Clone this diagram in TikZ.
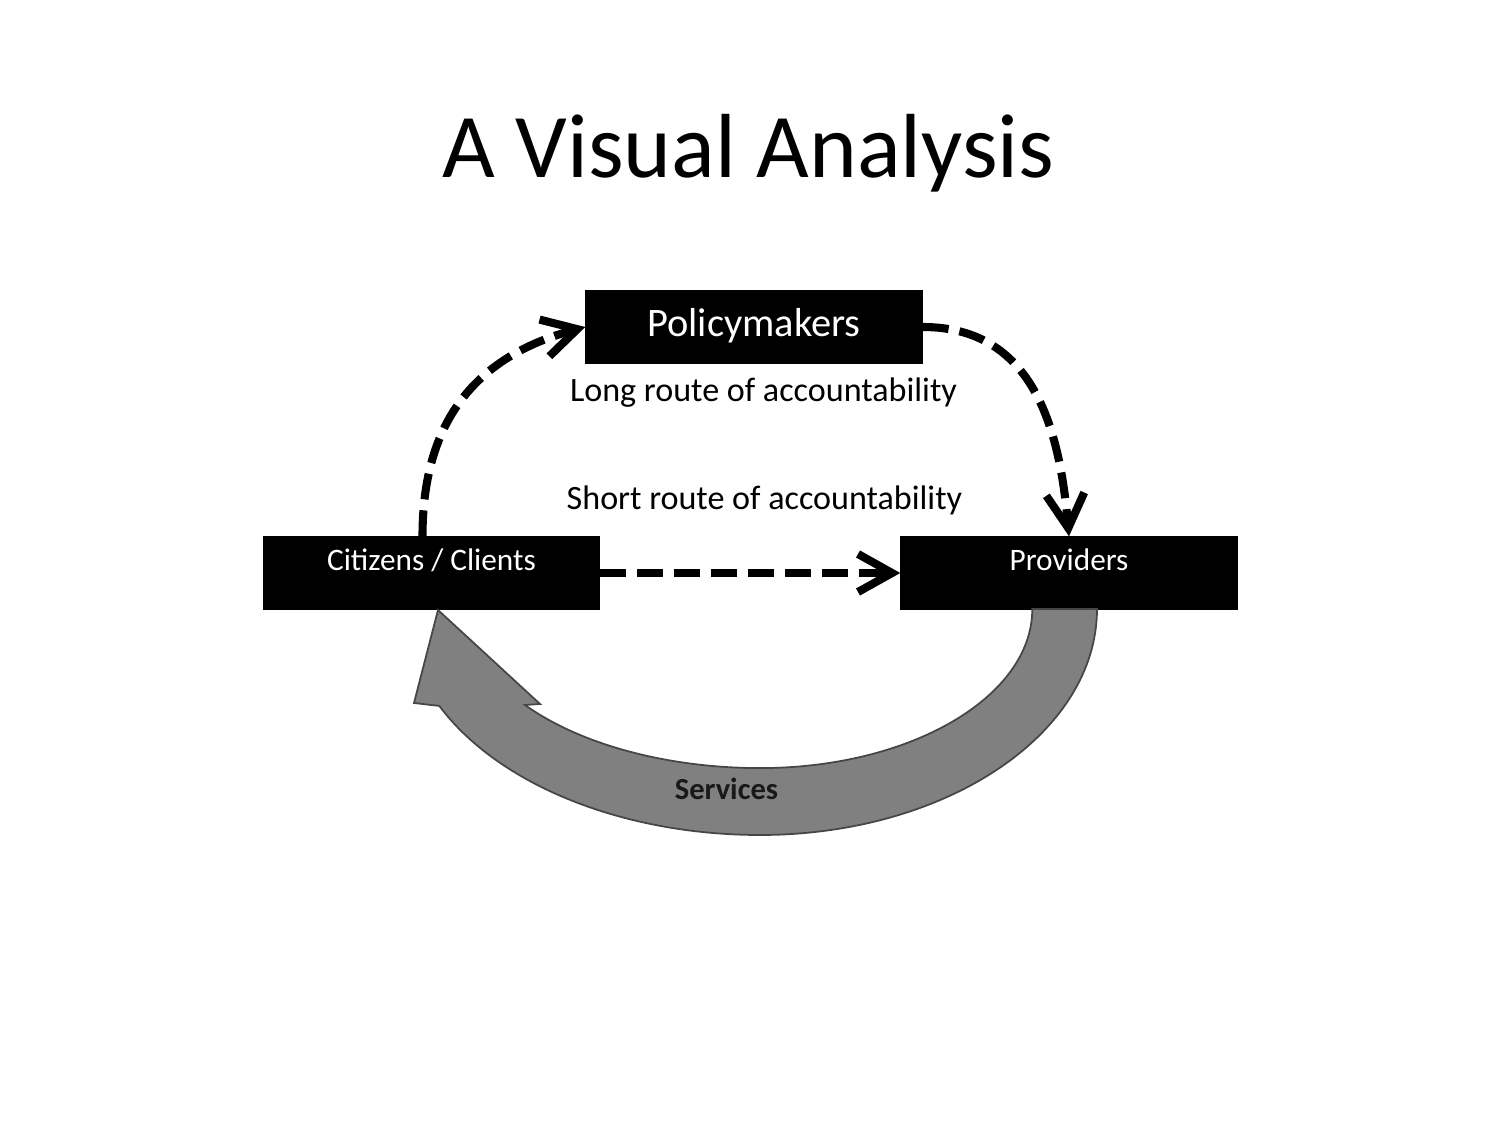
\documentclass[tikz,border=0pt]{standalone}
\usepackage{fontspec}
\setmainfont{Carlito}
\usepackage{xcolor}
\usetikzlibrary{arrows.meta,calc,positioning}
\definecolor{servgray}{RGB}{128,128,128}
\definecolor{servedge}{RGB}{70,70,70}
\definecolor{servtext}{RGB}{25,25,25}

\begin{document}
\begin{tikzpicture}[
  actor/.style={draw=black, fill=black, text=white, minimum width=3.36cm, minimum height=0.72cm,
    inner sep=0pt, font=\fontsize{8.9}{10}\selectfont, text height=0.22cm, text depth=0.26cm},
  route/.style={font=\fontsize{9.7}{11}\selectfont, anchor=base},
  dasharr/.style={line width=2.3pt, dash pattern=on 0.26cm off 0.11cm,
    -{Straight Barb[length=3.4mm, width=3.8mm, line width=2.3pt]}}
]
\useasboundingbox (0,0) rectangle (15,11.25);
% title
\node[anchor=base, font=\fontsize{25.9}{30}\selectfont] (title) at (7.485,9.47) {A Visual Analysis};
% the three actors
\node[actor, font=\fontsize{11.5}{13}\selectfont, text height=0.30cm, text depth=0.10cm] (pol) at (7.54,7.98) {Policymakers};
\node[actor] (cit) at (4.315,5.52) {Citizens / Clients};
\node[actor] (prov) at (10.69,5.52) {Providers};
% route labels
\node[route] (long) at (7.635,7.23) {Long route of accountability};
\node[route] (short) at (7.645,6.15) {Short route of accountability};
% services arrow
\fill[servgray, draw=servedge, line width=0.5pt]
  (10.97,5.16) arc[start angle=0, end angle=-90, x radius=3.37, y radius=2.26]
  arc[start angle=-90, end angle=-154.6, x radius=3.55, y radius=2.26]
  -- (4.14,4.22) -- (4.38,5.15) -- (5.40,4.21) -- (5.25,4.20)
  arc[start angle=-142.9, end angle=-90, x radius=2.95, y radius=1.59]
  arc[start angle=-90, end angle=0, x radius=2.72, y radius=1.59]
  -- cycle;
\node[anchor=base, text=servtext, font=\fontsize{8.7}{10}\selectfont\bfseries] (serv) at (7.265,3.26) {Services};
% accountability routes
\coordinate (citup) at ($(cit.north)+(-0.09,0)$);
\draw[dasharr] (citup) to[out=90, in=195, looseness=1.1] (pol.west);
\draw[dasharr] (pol.east) to[out=0, in=95, looseness=1.1] (prov.north);
\draw[dasharr] (cit.east) -- (prov.west);
\end{tikzpicture}
\end{document}
